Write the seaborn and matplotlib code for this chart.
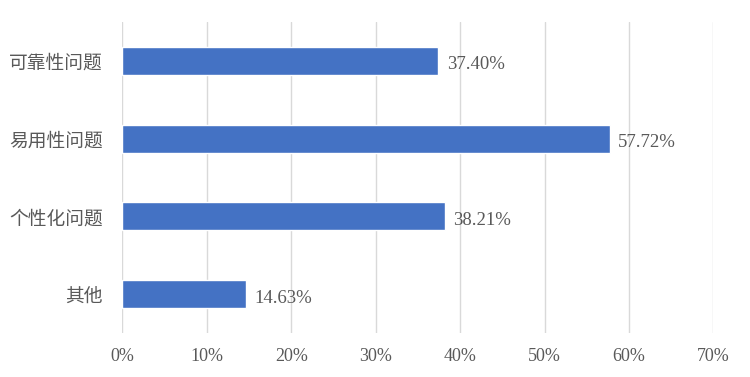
import matplotlib
matplotlib.use("Agg")
import matplotlib.pyplot as plt
import matplotlib.ticker as ticker
import pandas as pd
import seaborn as sns

categories = ["可靠性问题", "易用性问题", "个性化问题", "其他"]
values = [37.40, 57.72, 38.21, 14.63]
xticks = [0, 10, 20, 30, 40, 50, 60, 70]

sns.set_theme(style="white")
plt.rcParams["font.family"] = ["Noto Sans CJK SC", "DejaVu Sans"]
num_font = ["Liberation Serif", "Noto Sans CJK SC"]
text_color = "#595959"

df = pd.DataFrame({"cat": categories, "val": values})

fig = plt.figure(figsize=(7.5, 3.77), dpi=100)
ax = fig.add_axes([0.1633, 0.1167, 0.9511 - 0.1633, 0.9416 - 0.1167])
sns.barplot(data=df, y="cat", x="val", orient="h", color="#4472C4",
            saturation=1, width=0.36, ax=ax, zorder=3)

ax.set_xlim(0, 70)
ax.set_ylim(3.5, -0.5)
ax.set_xticks(xticks)
ax.xaxis.set_major_formatter(ticker.FuncFormatter(lambda v, p: f"{int(v)}%"))
ax.grid(axis="x", color="#D9D9D9", linewidth=1, zorder=0)
ax.grid(axis="y", visible=False)
for s in ax.spines.values():
    s.set_visible(False)
ax.tick_params(axis="both", length=0, colors=text_color)
ax.tick_params(axis="x", pad=11)
ax.tick_params(axis="y", pad=14)
for lbl in ax.get_xticklabels():
    lbl.set_fontfamily(num_font)
    lbl.set_fontsize(13)
for lbl in ax.get_yticklabels():
    lbl.set_fontsize(13.5)
ax.set_xlabel("")
ax.set_ylabel("")

# data labels, nudged a bit right/down like the original
for i, v in enumerate(values):
    ax.text(v + 1.0, i + 0.05, f"{v:.2f}%", va="center", ha="left",
            fontsize=13.5, color=text_color, family=num_font)

fig.savefig("out.png", dpi=100)
